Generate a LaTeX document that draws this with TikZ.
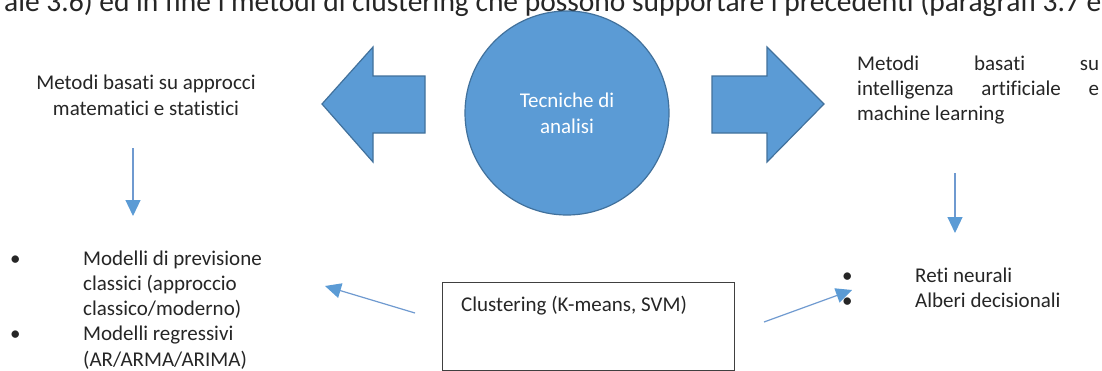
\documentclass[tikz,border=0pt]{standalone}
\usepackage{fontspec}
\setmainfont{Carlito}[Ligatures={NoCommon}]
\usetikzlibrary{arrows.meta}
\definecolor{office}{HTML}{5B9BD5}
\definecolor{officedark}{HTML}{41719C}
\definecolor{connline}{HTML}{6F9AD0}
\definecolor{ink}{HTML}{262626}
\definecolor{boxgray}{HTML}{404040}
\tikzset{
  txt/.style={font=\fontsize{21}{25.3}\selectfont, text=ink, inner sep=0pt},
  blockarrow/.style={fill=office, draw=officedark, line width=1.2pt, line join=miter},
  conn/.style={draw=connline, line width=1.2pt, -{Triangle[length=16pt,width=15pt,color=office]}},
  clbox/.style={draw=boxgray, line width=1pt, inner sep=0pt, minimum width=292pt, minimum height=88pt},
}
\begin{document}
\begin{tikzpicture}[x=1pt,y=-1pt]
\useasboundingbox (0,0) rectangle (1102,370);
\clip (0,0) rectangle (1102,370);
\fill[white] (0,0) rectangle (1102,370);

% clipped line of text at the top
\node[txt, font=\fontsize{29.5}{35}\selectfont, anchor=base west] (intro) at (4,11) {ale 3.6) ed in fine i metodi di clustering che possono supportare i precedenti (paragrafi 3.7 e 3.8)};

% block arrows
\draw[blockarrow] (425,76) -- (373,76) -- (373,47) -- (322,104) -- (373,162) -- (373,133) -- (425,133) -- cycle;
\draw[blockarrow] (712,76) -- (767,76) -- (767,47) -- (824,104) -- (767,162) -- (767,133) -- (712,133) -- cycle;

% central circle
\node[circle, fill=office, draw=officedark, line width=1.2pt, minimum size=204pt, inner sep=0pt] (tech) at (567,113) {};
\node[txt, text=white, align=center, anchor=base] (techtext) at (567,133) {Tecniche di\\analisi};

% titles
\node[txt, align=center, anchor=base] (mathtitle) at (146,115) {Metodi basati su approcci\\matematici e statistici};
\node[txt, anchor=base west] (aititle) at (857,70) {\parbox[t]{242pt}{\fontsize{21}{25.3}\selectfont Metodi basati su\linebreak intelligenza artificiale e\linebreak machine learning}};

% lists
\node[txt, anchor=base west] (leftlist) at (0,265) {\begin{tabular}[t]{@{}p{83pt}@{}l@{}}\hspace{10pt}\textbullet & Modelli di previsione\\ & classici (approccio\\ & classico/moderno)\\ \hspace{10pt}\textbullet & Modelli regressivi\\ & (AR/ARMA/ARIMA)\end{tabular}};
\node[txt, anchor=base west] (rightlist) at (842,282) {\begin{tabular}[t]{@{}p{73pt}@{}l@{}}\textbullet & Reti neurali\\ \textbullet & Alberi decisionali\end{tabular}};

% clustering box
\node[clbox, anchor=north west] (clust) at (442,282) {};
\node[txt, anchor=base west] (clusttext) at (461,311) {Clustering (K-means, SVM)};

% connectors
\coordinate (ldS) at (133,148); \coordinate (ldE) at (133,216);
\coordinate (rdS) at (955,173); \coordinate (rdE) at (955,233);
\coordinate (clL) at (415,313); \coordinate (lstL) at (325,286);
\coordinate (clR) at (764,322); \coordinate (lstR) at (852,290);
\draw[conn] (ldS) -- (ldE);
\draw[conn] (rdS) -- (rdE);
\draw[conn] (clL) -- (lstL);
\draw[conn] (clR) -- (lstR);
\end{tikzpicture}
\end{document}
